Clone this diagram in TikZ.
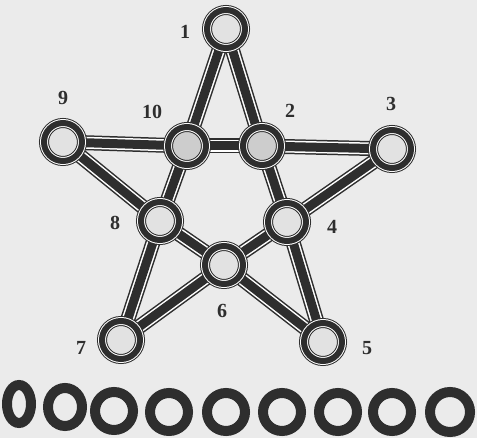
\documentclass[tikz,border=0pt]{standalone}
\usepackage{fontspec}
\setmainfont{Liberation Serif}
\usepackage{tikz}
\usetikzlibrary{positioning}
\definecolor{inkdark}{HTML}{2E2E2E}
\definecolor{paperbg}{HTML}{EBEBEB}
\definecolor{pegfill}{HTML}{E2E2E2}
\definecolor{pegshade}{HTML}{CDCDCD}
\pgfdeclarelayer{paper}
\pgfdeclarelayer{bars}
\pgfsetlayers{paper,bars,main}

\begin{document}
\begin{tikzpicture}[x=1pt,y=-1pt,
  peg/.style={circle,inner sep=0pt,outer sep=0pt,minimum size=38pt,
    preaction={fill=#1,draw=inkdark,line width=10pt},
    preaction={draw=white,line width=8pt},
    draw=inkdark,line width=6pt},
  peg/.default=pegfill,
  bar/.style={preaction={draw=inkdark,line width=15pt},
    preaction={draw=white,line width=12pt},
    draw=inkdark,line width=9pt},
  num/.style={font=\bfseries\fontsize{20}{20}\selectfont,text=inkdark,inner sep=0pt}]
 \useasboundingbox (0,0) rectangle (477,438);
 \begin{pgfonlayer}{paper}
  \fill[paperbg] (0,0) rectangle (477,438);
 \end{pgfonlayer}
 % pegs of the star
 \node[peg] (n1) at (226,29) {};
 \node[peg=pegshade] (n2) at (262,146) {};
 \node[peg] (n3) at (392,149) {};
 \node[peg] (n4) at (287,222) {};
 \node[peg] (n5) at (323,342) {};
 \node[peg] (n6) at (224,265) {};
 \node[peg] (n7) at (121,340) {};
 \node[peg] (n8) at (160,221) {};
 \node[peg] (n9) at (63,142) {};
 \node[peg=pegshade] (n10) at (187,146) {};
 % bars
 \begin{pgfonlayer}{bars}
  \foreach \a/\b in {1/10,10/8,8/7,1/2,2/4,4/5,9/10,10/2,2/3,3/4,4/6,6/7,9/8,8/6,6/5}
   \draw[bar] (n\a) -- (n\b);
 \end{pgfonlayer}
 % numbers
 \node[num] (t1) at (185,32) {1};
 \node[num] (t2) at (290,111) {2};
 \node[num] (t3) at (391,104) {3};
 \node[num] (t4) at (332,227) {4};
 \node[num] (t5) at (367,348) {5};
 \node[num] (t6) at (222,311) {6};
 \node[num] (t7) at (81,348) {7};
 \node[num] (t8) at (115,223) {8};
 \node[num] (t9) at (63,98) {9};
 \node[num] (t10) at (152,112) {10};
 % rings
 \foreach \x/\y/\rx/\ry in {19/404/12/19,65/407/17/19,114/411/19/19,169/412/19/19,
   226/412/19/19,282/412/19/19,338/412/19/19,392/412/19/19,450/412/20/20}
  \draw[inkdark,line width=10pt] (\x,\y) ellipse [x radius=\rx,y radius=\ry];
\end{tikzpicture}
\end{document}
